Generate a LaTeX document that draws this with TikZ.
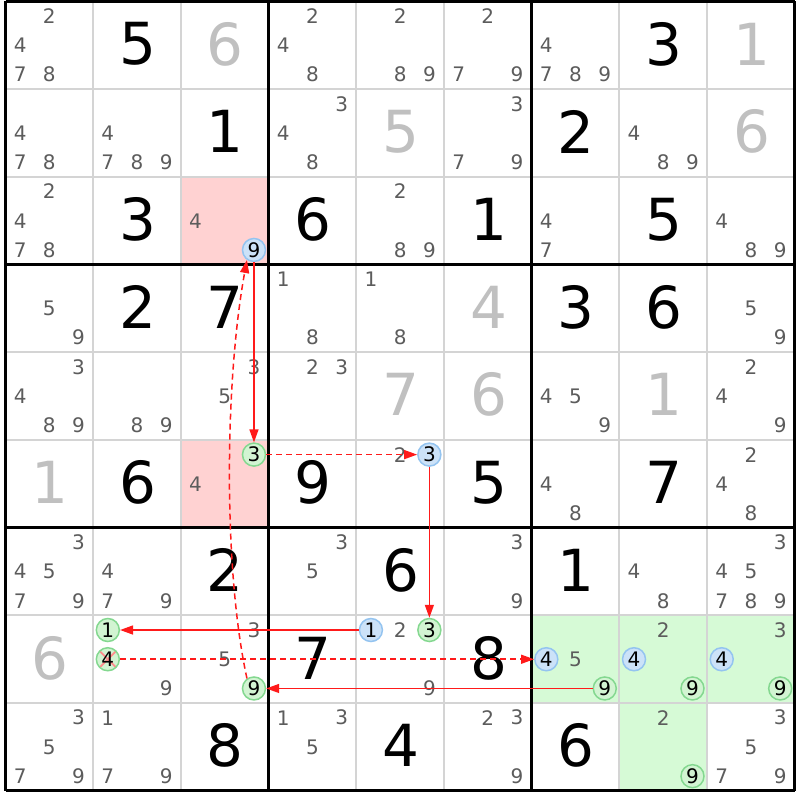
\documentclass[tikz,border=0pt]{standalone}
\usepackage{fontspec}
\setmainfont{DejaVu Sans}
\usetikzlibrary{arrows.meta}
\usepackage{xcolor}

\definecolor{candgray}{HTML}{5C5C5C}
\definecolor{givengray}{HTML}{C0C0C0}
\definecolor{gridgray}{HTML}{D4D4D4}
\definecolor{cellpink}{HTML}{FFD2D2}
\definecolor{cellgreen}{HTML}{D6FAD6}
\definecolor{markblue}{HTML}{CCE2F8}
\definecolor{ringblue}{HTML}{94C4F0}
\definecolor{markgreen}{HTML}{D2F4D2}
\definecolor{ringgreen}{HTML}{84D890}
\definecolor{linkred}{HTML}{FF1A1A}

% cell corner and candidate centre, in px (y up)
\newcommand{\cellxy}[2]{%
  \pgfmathsetmacro{\cx}{5.5+87.7*#2}%
  \pgfmathsetmacro{\cy}{798.5-87.7*#1}}
\newcommand{\candxy}[3]{%
  \pgfmathsetmacro{\cx}{5.5+87.7*#2+29.23*(mod(#3-1,3)+0.5)}%
  \pgfmathsetmacro{\cy}{798.5-87.7*#1-29.23*(floor((#3-1)/3)+0.5)}}

\tikzset{
  cand/.style={text=candgray, inner sep=0pt, font=\fontsize{20}{20}\selectfont},
  bluemark/.style={cand, text=black, circle, minimum size=23pt,
    fill=markblue, draw=ringblue, line width=1.5pt},
  greenmark/.style={bluemark, fill=markgreen, draw=ringgreen},
  solved/.style={inner sep=0pt, font=\fontsize{58}{58}\selectfont},
  given/.style={solved, text=givengray},
  link/.style={draw=linkred, line width=1.5pt,
    -{Triangle[length=13pt,width=9pt]}},
  dlink/.style={link, dash pattern=on 6pt off 4pt},
}

\begin{document}
\begin{tikzpicture}[x=1pt, y=1pt]
  \useasboundingbox (0,0) rectangle (800,800);
  \fill[white] (0,0) rectangle (800,800);

  % highlighted cells
  \foreach \r/\c in {2/2, 5/2} {
    \cellxy{\r}{\c}
    \fill[cellpink] (\cx,\cy) rectangle ++(87.7,-87.7);
  }
  \foreach \r/\c in {7/6, 7/7, 7/8, 8/7} {
    \cellxy{\r}{\c}
    \fill[cellgreen] (\cx,\cy) rectangle ++(87.7,-87.7);
  }

  % grid
  \foreach \i in {0,...,9} {
    \draw[gridgray, line width=2pt] (5.5+87.7*\i,798.5) -- (5.5+87.7*\i,9.2);
    \draw[gridgray, line width=2pt] (5.5,798.5-87.7*\i) -- (794.8,798.5-87.7*\i);
  }
  \foreach \i in {0,3,6,9} {
    \draw[black, line width=3pt] (5.5+87.7*\i,798.5) -- (5.5+87.7*\i,9.2);
    \draw[black, line width=3pt] (5.5,798.5-87.7*\i) -- (794.8,798.5-87.7*\i);
  }

  % placed digits
  \foreach \r/\c/\d in {0/1/5, 0/7/3, 1/2/1, 1/6/2, 2/1/3, 2/3/6, 2/5/1, 2/7/5,
      3/1/2, 3/2/7, 3/6/3, 3/7/6, 5/1/6, 5/3/9, 5/5/5, 5/7/7, 6/2/2, 6/4/6,
      6/6/1, 7/3/7, 7/5/8, 8/2/8, 8/4/4, 8/6/6} {
    \cellxy{\r}{\c}
    \node[solved] (v\r\c) at (\cx+44.5,\cy-42.5) {\d};
  }
  \foreach \r/\c/\d in {0/2/6, 0/8/1, 1/4/5, 1/8/6, 3/5/4, 4/4/7, 4/5/6,
      4/7/1, 5/0/1, 7/0/6} {
    \cellxy{\r}{\c}
    \node[given] (v\r\c) at (\cx+44.5,\cy-42.5) {\d};
  }

  % candidates
  \foreach \r/\c/\ds in {0/0/{2,4,7,8}, 0/3/{2,4,8}, 0/4/{2,8,9}, 0/5/{2,7,9},
      0/6/{4,7,8,9}, 1/0/{4,7,8}, 1/1/{4,7,8,9}, 1/3/{3,4,8}, 1/5/{3,7,9},
      1/7/{4,8,9}, 2/0/{2,4,7,8}, 2/2/{4}, 2/4/{2,8,9}, 2/6/{4,7}, 2/8/{4,8,9},
      3/0/{5,9}, 3/3/{1,8}, 3/4/{1,8}, 3/8/{5,9}, 4/0/{3,4,8,9}, 4/1/{8,9},
      4/2/{3,5}, 4/3/{2,3}, 4/6/{4,5,9}, 4/8/{2,4,9}, 5/2/{4}, 5/4/{2},
      5/6/{4,8}, 5/8/{2,4,8}, 6/0/{3,4,5,7,9}, 6/1/{4,7,9}, 6/3/{3,5},
      6/5/{3,9}, 6/7/{4,8}, 6/8/{3,4,5,7,8,9}, 7/1/{9}, 7/2/{3,5}, 7/4/{2,9},
      7/6/{5}, 7/7/{2}, 7/8/{3}, 8/0/{3,5,7,9}, 8/1/{1,7,9}, 8/3/{1,3,5},
      8/5/{2,3,9}, 8/7/{2}, 8/8/{3,5,7,9}} {
    \foreach \d in \ds {
      \candxy{\r}{\c}{\d}
      \node[cand] (k\r\c\d) at (\cx,\cy) {\d};
    }
  }

  % marked candidates
  \foreach \r/\c/\d in {2/2/9, 5/4/3, 7/4/1, 7/6/4, 7/7/4, 7/8/4} {
    \candxy{\r}{\c}{\d}
    \node[bluemark] (k\r\c\d) at (\cx,\cy) {\d};
  }
  \foreach \r/\c/\d in {5/2/3, 7/1/1, 7/2/9, 7/4/3, 7/6/9, 7/7/9, 7/8/9, 8/7/9} {
    \candxy{\r}{\c}{\d}
    \node[greenmark] (k\r\c\d) at (\cx,\cy) {\d};
  }
  \candxy{7}{1}{4}
  \node[greenmark, path picture={
      \draw[red!45, line width=1.8pt]
        (path picture bounding box.north west) -- (path picture bounding box.south east)
        (path picture bounding box.north east) -- (path picture bounding box.south west);
    }] (k714) at (\cx,\cy) {4};

  % chain
  \draw[link] (k229) -- (k523);
  \draw[dlink] (k523) -- (k543);
  \draw[link] (k543) -- (k743);
  \draw[link] (k741) -- (k711);
  \draw[dlink] (k714) -- (k764);
  \draw[link] (k769) -- (k729);
  \draw[dlink] (k729.125) .. controls +(-24,110) and +(-22,-120) .. (k229.-125);
\end{tikzpicture}
\end{document}
